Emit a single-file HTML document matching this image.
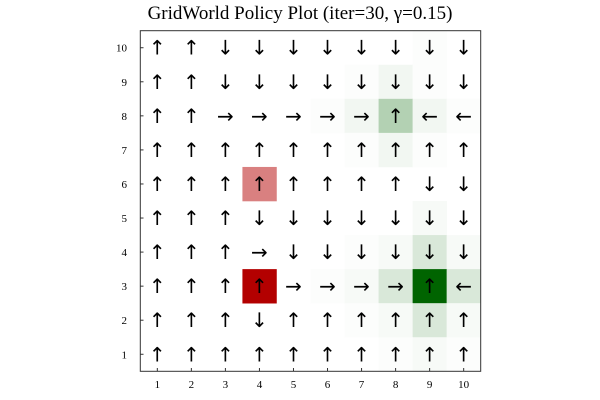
<!DOCTYPE html>
<html><head><meta charset="utf-8"><style>
html,body{margin:0;padding:0;background:#fff;}
svg{display:block;}
</style></head><body>
<svg id="chart" width="600" height="400" xmlns="http://www.w3.org/2000/svg">
<text x="300" y="19" text-anchor="middle" font-family="Liberation Serif, serif" font-size="19" fill="#000">GridWorld Policy Plot (iter=30, γ=0.15)</text>
<g id="cells"></g>
<g id="arrows"></g>
<rect x="140.3" y="30.7" width="340.4" height="340.6" fill="none" stroke="#333" stroke-width="1"/>
<g id="ticks"></g>
</svg>
<script>
const xCats = [1,2,3,4,5,6,7,8,9,10];
const yCats = [1,2,3,4,5,6,7,8,9,10];
// values per row, top (y=10) to bottom (y=1)
const valueRows = [
 [0,0,0,0,0,0,0,0,0.01,0],
 [0,0,0,0,0,0,0.01,0.05,0.01,0],
 [0,0,0,0,0,0.01,0.05,0.3,0.05,0.01],
 [0,0,0,0,0,0,0.01,0.05,0.01,0],
 [0,0,0,-0.5,0,0,0,0,0,0],
 [0,0,0,0,0,0,0,0,0.03,0],
 [0,0,0,0,0,0,0.01,0.03,0.15,0.03],
 [0,0,0,-1,0,0.01,0.03,0.15,1,0.15],
 [0,0,0,0,0,0,0.01,0.03,0.15,0.03],
 [0,0,0,0,0,0,0,0.01,0.03,0.01]
];
const policyRows = [
 "UUDDDDDDDD",
 "UUDDDDDDDD",
 "UURRRRRULL",
 "UUUUUUUUUU",
 "UUUUUUUUDD",
 "UUUDDDDDDD",
 "UUURDDDDDD",
 "UUUURRRRUL",
 "UUUDUUUUUU",
 "UUUUUUUUUU"
];
const tickLabels = ["1","2","3","4","5","6","7","8","9","10"];
const X0=140.3,X1=480.7,Y0=371.3,Y1=30.7;
const sx=v=>X0+(v-0.5)/10*(X1-X0);
const sy=v=>Y0-(v-0.5)/10*(Y0-Y1);
const NS="http://www.w3.org/2000/svg";
const glyph={U:"↑",D:"↓",L:"←",R:"→"};
function color(v){
  if(v>=0){const r=Math.round(255-v*255),g=Math.round(255-v*155),b=Math.round(255-v*255);return `rgb(${r},${g},${b})`;}
  const a=-v;return `rgb(${Math.round(255-a*76)},${Math.round(255-a*255)},${Math.round(255-a*255)})`;
}
const cells=document.getElementById('cells'),arrows=document.getElementById('arrows'),ticks=document.getElementById('ticks');
const cw=(X1-X0)/10,ch=(Y0-Y1)/10;
for(let r=0;r<10;r++){for(let c=0;c<10;c++){
  const yv=yCats[9-r],xv=xCats[c],v=valueRows[r][c];
  if(v!==0){
    const rect=document.createElementNS(NS,'rect');
    
    
    rect.setAttribute('x',sx(xv)-cw/2);rect.setAttribute('y',sy(yv)-ch/2);
    rect.setAttribute('width',cw+0.3);rect.setAttribute('height',ch+0.3);
    rect.setAttribute('fill',color(v));cells.appendChild(rect);
  }
  const t=document.createElementNS(NS,'text');
  
  
  t.setAttribute('x',sx(xv));t.setAttribute('y',sy(yv)+7);
  t.setAttribute('text-anchor','middle');t.setAttribute('font-size','20');
  t.setAttribute('font-family','DejaVu Sans, sans-serif');
  t.textContent=glyph[policyRows[r][c]];arrows.appendChild(t);
}}
for(let i=0;i<10;i++){
  const xt=document.createElementNS(NS,'text');
  
  
  xt.setAttribute('x',sx(xCats[i]));xt.setAttribute('y',388);xt.setAttribute('text-anchor','middle');
  xt.setAttribute('font-size','11');xt.setAttribute('font-family','Liberation Serif, serif');
  xt.textContent=tickLabels[i];ticks.appendChild(xt);
  const xl=document.createElementNS(NS,'line');
  
  
  xl.setAttribute('x1',sx(xCats[i]));xl.setAttribute('x2',sx(xCats[i]));xl.setAttribute('y1',371.3);xl.setAttribute('y2',368);
  xl.setAttribute('stroke','#333');ticks.appendChild(xl);
  const yt=document.createElementNS(NS,'text');
  
  
  yt.setAttribute('x',127);yt.setAttribute('y',sy(yCats[i])+4);yt.setAttribute('text-anchor','end');
  yt.setAttribute('font-size','11');yt.setAttribute('font-family','Liberation Serif, serif');
  yt.textContent=tickLabels[i];ticks.appendChild(yt);
  const yl=document.createElementNS(NS,'line');
  
  
  yl.setAttribute('x1',140.3);yl.setAttribute('x2',143.5);yl.setAttribute('y1',sy(yCats[i]));yl.setAttribute('y2',sy(yCats[i]));
  yl.setAttribute('stroke','#333');ticks.appendChild(yl);
}
</script>
</body></html>
